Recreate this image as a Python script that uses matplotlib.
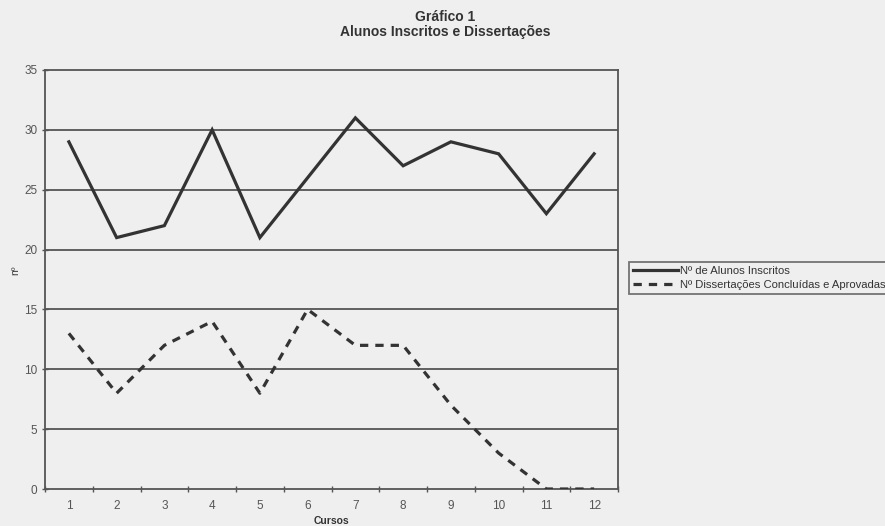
import matplotlib
matplotlib.use("Agg")
import matplotlib.pyplot as plt
from matplotlib.ticker import FixedLocator, NullFormatter

plt.rcParams['font.family'] = ['Liberation Sans', 'DejaVu Sans']

cursos = [1, 2, 3, 4, 5, 6, 7, 8, 9, 10, 11, 12]
inscritos = [29, 21, 22, 30, 21, 26, 31, 27, 29, 28, 23, 28]
dissertacoes = [13, 8, 12, 14, 8, 15, 12, 12, 7, 3, 0, 0]
yticks = [0, 5, 10, 15, 20, 25, 30, 35]

bg = '#efefef'
ink = '#333333'
grey = '#555555'

fig = plt.figure(figsize=(8.85, 5.26), dpi=100, facecolor=bg)
ax = fig.add_axes([45/885, 1-489/526, (618-45)/885, (489-70)/526], facecolor=bg)

ax.set_xlim(0.5, 12.5)
ax.set_ylim(0, 35)

for y in yticks[1:-1]:
    ax.axhline(y, color=grey, lw=1.3, zorder=1)

l1, = ax.plot(cursos, inscritos, color=ink, lw=2.3, solid_joinstyle='miter',
              label='Nº de Alunos Inscritos', zorder=3)
l2, = ax.plot(cursos, dissertacoes, color=ink, lw=2.3, dashes=(2.6, 2.2),
              label='Nº Dissertações Concluídas e Aprovadas', zorder=3)

for s in ax.spines.values():
    s.set_color(grey)
    s.set_linewidth(1.3)

ax.set_yticks(yticks)
ax.tick_params(axis='y', direction='inout', length=5, width=1, color=grey,
               labelsize=8.5, labelcolor=grey, pad=3)
ax.set_xticks(cursos)
ax.set_xticklabels([str(c) for c in cursos])
ax.tick_params(axis='x', which='major', length=0, labelsize=8.5, labelcolor=grey, pad=8)
ax.xaxis.set_minor_locator(FixedLocator([i + 0.5 for i in range(0, 13)]))
ax.xaxis.set_minor_formatter(NullFormatter())
ax.tick_params(axis='x', which='minor', direction='inout', length=5, width=1, color=grey)

ax.set_xlabel('Cursos', fontsize=7.5, fontweight='bold', color=ink, labelpad=3)
fig.text(15/885, 1-270/526, 'nº', rotation=90, fontsize=7.5, color=ink,
         ha='center', va='center')

fig.text(0.503, 1-17/526, 'Gráfico 1', fontsize=10, fontweight='bold', color=ink,
         ha='center', va='center')
fig.text(0.503, 1-32/526, 'Alunos Inscritos e Dissertações', fontsize=10,
         fontweight='bold', color=ink, ha='center', va='center')

leg = fig.legend(handles=[l1, l2], loc='upper left',
                 bbox_to_anchor=(629/885, 1-262/526), fontsize=8.1,
                 frameon=True, fancybox=False, facecolor=bg, edgecolor=grey,
                 handlelength=4.0, handletextpad=0.2, borderpad=0.35,
                 labelspacing=0.35, borderaxespad=0)
leg.get_frame().set_linewidth(1.3)
for t in leg.get_texts():
    t.set_color(ink)

fig.savefig('out.png', dpi=100, facecolor=bg)
